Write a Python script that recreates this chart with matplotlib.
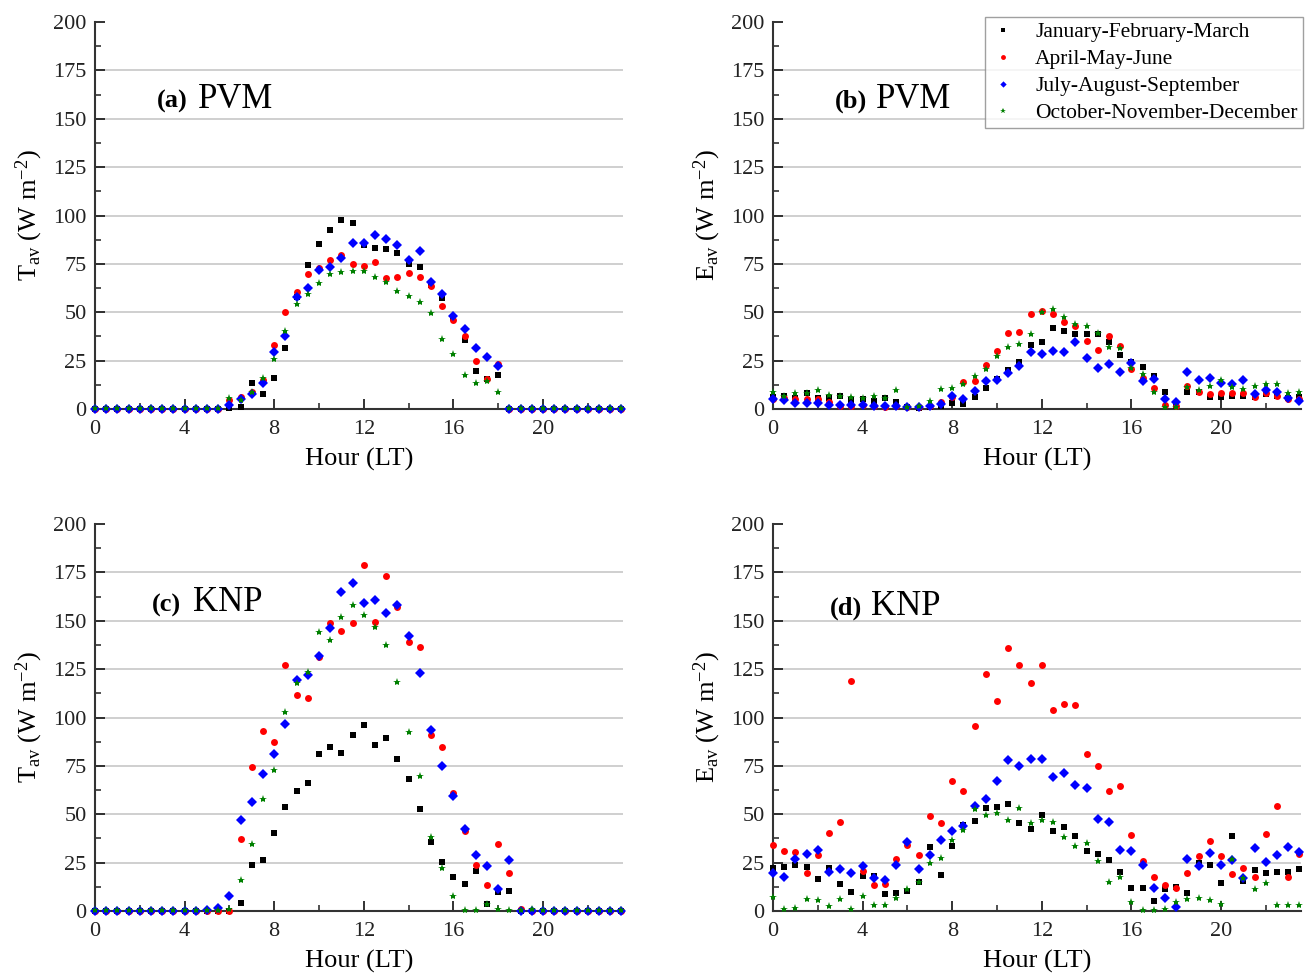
import numpy as np
import matplotlib
matplotlib.use("Agg")
import matplotlib.pyplot as plt
from matplotlib.ticker import MultipleLocator

plt.rcParams['font.family'] = ['Liberation Serif', 'DejaVu Serif']
plt.rcParams['mathtext.fontset'] = 'custom'
plt.rcParams['mathtext.rm'] = 'Liberation Serif'
plt.rcParams['mathtext.it'] = 'Liberation Serif:italic'
plt.rcParams['mathtext.bf'] = 'Liberation Serif:bold'

hours = np.arange(0, 24, 0.5)

season_labels = ["January-February-March", "April-May-June",
                 "July-August-September", "October-November-December"]

# (a) PVM, transmitted
a_jfm = [0]*12 + [0.5, 1, 13.6, 7.6, 15.9, 31.6, 58, 74.3, 85.2, 92.4, 97.9, 96, 85,
                  83.3, 82.8, 80.5, 74.8, 73.6, 64, 57.2, 47, 35.5, 19.8, 15.5, 17.6] + [0]*11
a_amj = [0]*12 + [4.5, 6, 9, 15.2, 33.3, 50, 60.3, 69.8, 72.8, 76.9, 79.7, 74.8, 73.8,
                  76.2, 67.9, 68.4, 70.5, 68.1, 63.4, 53.1, 45.9, 37.9, 25, 15.5, 23.1] + [0]*11
a_jas = [0]*12 + [2, 5.2, 7.8, 13.6, 29.5, 37.8, 57.9, 62.8, 71.7, 73.6, 77.9, 85.9, 85.7,
                  90, 87.9, 84.8, 77.1, 81.7, 65.9, 59.3, 48.3, 41.6, 31.6, 26.7, 22.2] + [0]*11
a_ond = [0.5]*12 + [5.9, 4.5, 9, 16, 25.7, 40.5, 54.5, 59.7, 65, 69.8, 71, 71.6, 71.6,
                    68.3, 65.7, 60.9, 58.6, 55.5, 49.7, 36.2, 28.3, 17.8, 13.4, 14.3, 9] + [0.5]*11

# (b) PVM, emitted
b_jfm = [6, 6.9, 5.7, 8.1, 5.5, 5.5, 6.9, 4.7, 5.2, 4.3, 5.5, 3.4, 1, 0.5, 1, 1.5,
         2.9, 2.4, 6, 10.7, 15.5, 20.3, 24.1, 33.1, 34.8, 41.7, 40.5, 38.8, 39, 39, 34.5, 27.9,
         24.5, 21.7, 17.2, 8.6, 1.5, 8.6, 8.8, 6.4, 6, 6.6, 6.6, 6.4, 7.8, 7, 5.5, 6]
b_amj = [5.2, 5.5, 5.2, 5.2, 5.2, 3.4, 1.4, 1.4, 2, 1.4, 0.9, 1.7, 1, 1.2, 1.7, 3.4,
         6.4, 13.8, 14.7, 22.9, 30.2, 39.1, 40, 49.1, 50.9, 49.1, 45.2, 43.1, 35, 30.5, 37.6, 32.8,
         20.7, 16, 10.7, 2, 1.7, 11.7, 8.8, 7.8, 8.1, 8.1, 8.1, 6.4, 8.1, 6.9, 5.2, 5]
b_jas = [5.2, 4.7, 3.1, 3.1, 3.1, 2, 2, 2, 2, 1.7, 1.7, 1.7, 0.9, 0.9, 1.7, 2.4,
         6.9, 5.2, 9.5, 14.7, 15.2, 18.6, 22.1, 29.7, 28.4, 30.2, 29.7, 34.8, 26.6, 21, 23.1, 19,
         23.8, 14.5, 15.5, 5.2, 3.8, 19.3, 15.2, 16.2, 13.4, 12.9, 15, 7.9, 9.8, 9, 5.5, 4.3]
b_ond = [8.6, 7, 8.3, 8.1, 9.8, 7.4, 6.9, 6.4, 5.7, 6.7, 5.7, 9.8, 1.2, 1.4, 4.3, 10.3,
         10.7, 12.9, 16.9, 20.7, 27.2, 31.9, 33.6, 38.8, 50.3, 51.7, 47.6, 43.8, 43.1, 39.3, 31.9, 31.4,
         21.2, 18.1, 9, 0.9, 0.9, 11.2, 10, 11.7, 15.2, 11.2, 10.3, 11.7, 12.9, 12.8, 8.1, 9]

# (c) KNP, transmitted
c_jfm = [0]*13 + [4.4, 23.9, 26.2, 40.2, 53.8, 62, 66.2, 81.4, 85, 81.7, 91.2, 96.2, 86,
                  89.3, 78.6, 68.4, 52.9, 35.7, 25.3, 17.8, 14, 20.9, 3.4, 9.8, 10.3] + [0]*10
c_amj = [0]*13 + [37.1, 74.5, 93.1, 87.4, 127.2, 111.4, 110.3, 131.4, 148.8, 144.5, 148.8,
                  179, 149.5, 173.3, 157, 139, 136.6, 91.2, 84.8, 61.2, 41.2, 24, 13.4, 34.5,
                  19.8, 0.9] + [0]*9
c_jas = [0]*10 + [0.3, 1.7, 7.6, 46.9, 56.4, 70.7, 81, 96.9, 119.5, 122, 132, 146.2, 164.8,
                  169.7, 159, 161, 154.1, 158.3, 142.2, 122.8, 93.6, 74.8, 59.5, 42.6, 29,
                  23.1, 11.2, 26.2] + [0]*10
c_ond = [0.5]*12 + [0.9, 16.2, 34.8, 57.8, 73.1, 102.9, 117.8, 123.6, 144, 140, 152, 158.4,
                    153.1, 146.6, 137.4, 118.3, 92.6, 69.7, 38.3, 22.4, 7.9, 0.5, 0.5, 3.4,
                    0.9, 0.5, 0.5, 1.2] + [0.5]*8

# (d) KNP, emitted
d_jfm = [22, 22.9, 23.9, 22.5, 16.7, 22, 13.8, 9.6, 18, 17.9, 8.9, 9.1, 10.1, 14.8, 33, 18.4,
         33.7, 44.7, 46.3, 53, 53.8, 55.4, 45.7, 42.6, 49.5, 41.6, 43.4, 38.8, 31.2, 29.5, 26.6, 20.2,
         11.9, 12.1, 5, 11.2, 12.6, 9.1, 25, 23.6, 14.5, 39, 15.5, 21, 19.7, 20.2, 20, 21.6]
d_amj = [33.9, 30.8, 30.6, 19.6, 28.9, 40.1, 45.9, 118.7, 20.5, 13.2, 14.1, 27, 34, 28.9, 49.2, 45.7,
         67.1, 62.1, 95.6, 122.3, 108.4, 135.8, 126.9, 117.9, 127.4, 104.1, 107.2, 106.6, 81.2, 74.7,
         61.9, 64.5, 39.1, 25.7, 17.4, 13.3, 12.1, 19.5, 28.3, 36.4, 28.4, 19.3, 22.4, 17.4, 39.8,
         54.5, 17.4, 29.7]
d_jas = [19.6, 17.5, 27, 29.4, 31.6, 20.1, 21.8, 19.6, 23.4, 17, 15.8, 23.9, 35.9, 21.5, 28.7, 36.5,
         41.3, 43.7, 54.2, 58, 67.1, 78.2, 74.8, 78.6, 78.6, 69.3, 71.2, 65.3, 63.4, 47.8, 46.2, 31.7,
         31.2, 23.8, 11.7, 6.9, 2.2, 27.1, 23.1, 30.2, 23.6, 26.4, 17.1, 32.6, 25.2, 29.1, 32.9, 30.3]
d_ond = [7.2, 0.9, 1.7, 6, 5.8, 2.6, 6.2, 0.9, 7.7, 2.9, 2.9, 6.7, 11.2, 14.8, 24.9, 27.5,
         36.5, 42.1, 52.5, 49.4, 50.9, 47.1, 53.1, 45.7, 46.9, 45.9, 38.4, 33.4, 35.3, 25.7, 14.8, 17.6,
         4.7, 0.5, 0.5, 0.9, 4.7, 6, 6.7, 5.9, 3.4, 27.1, 17.2, 11.6, 14.5, 2.9, 3.3, 2.9]

panels = [
    ("(a)", "PVM", r"T$_{\rm av}$ (W m$^{-2}$)", [a_jfm, a_amj, a_jas, a_ond]),
    ("(b)", "PVM", r"E$_{\rm av}$ (W m$^{-2}$)", [b_jfm, b_amj, b_jas, b_ond]),
    ("(c)", "KNP", r"T$_{\rm av}$ (W m$^{-2}$)", [c_jfm, c_amj, c_jas, c_ond]),
    ("(d)", "KNP", r"E$_{\rm av}$ (W m$^{-2}$)", [d_jfm, d_amj, d_jas, d_ond]),
]

styles = [dict(marker='s', color='black', ms=4.8),
          dict(marker='o', color='red', ms=5.0),
          dict(marker='D', color='blue', ms=4.6),
          dict(marker='*', color='#008000', ms=6.0)]

fig = plt.figure(figsize=(13.12, 9.73), dpi=100)
positions = [(0.0724, 0.5796), (0.5892, 0.5796), (0.0724, 0.0637), (0.5892, 0.0637)]
label_y = [0.778, 0.778, 0.775, 0.765]

for i, (tag, site, ylab, series) in enumerate(panels):
    ax = fig.add_axes([positions[i][0], positions[i][1], 0.4024, 0.3977])
    for yv in range(25, 200, 25):
        ax.axhline(yv, color='#cccccc', lw=1.3, zorder=0)
    for s, lab, st in zip(series, season_labels, styles):
        ax.plot(hours, s, ls='none', marker=st['marker'], color=st['color'],
                ms=st['ms'], mew=0, label=lab, clip_on=False, zorder=3)
    ax.set_xlim(0, 23.57)
    ax.set_ylim(0, 200)
    ax.xaxis.set_major_locator(MultipleLocator(4))
    ax.xaxis.set_minor_locator(MultipleLocator(2))
    ax.yaxis.set_major_locator(MultipleLocator(25))
    ax.yaxis.set_minor_locator(MultipleLocator(12.5))
    ax.tick_params(which='both', direction='in', labelsize=16, colors='#222222')
    ax.tick_params(axis='x', which='major', pad=8)
    ax.tick_params(axis='y', which='major', pad=6)
    ax.tick_params(which='major', length=7, width=1.3)
    ax.tick_params(which='minor', length=4, width=1.1)
    for sp in ['top', 'right']:
        ax.spines[sp].set_visible(False)
    for sp in ['left', 'bottom']:
        ax.spines[sp].set_linewidth(1.5)
        ax.spines[sp].set_color('#333333')
    ax.set_xlabel("Hour (LT)", fontsize=19, labelpad=6)
    ax.set_ylabel(ylab, fontsize=19, labelpad=6)
    x0 = 0.118 if i in (0, 1) else 0.108
    ax.text(x0, label_y[i], tag, transform=ax.transAxes, fontsize=19,
            fontweight='bold', va='baseline')
    ax.text(x0 + 0.077, label_y[i], site, transform=ax.transAxes, fontsize=25,
            va='baseline')
    if i == 1:
        leg = ax.legend(loc='upper right', bbox_to_anchor=(1.012, 1.025), fontsize=15.5,
                        frameon=True, fancybox=False, markerscale=0.7,
                        handlelength=1.2, handletextpad=0.9, borderpad=0.25,
                        labelspacing=0.32, borderaxespad=0.2)
        leg.get_frame().set_edgecolor('#888888')
        leg.get_frame().set_linewidth(1.0)

fig.savefig("out.png", dpi=100)
